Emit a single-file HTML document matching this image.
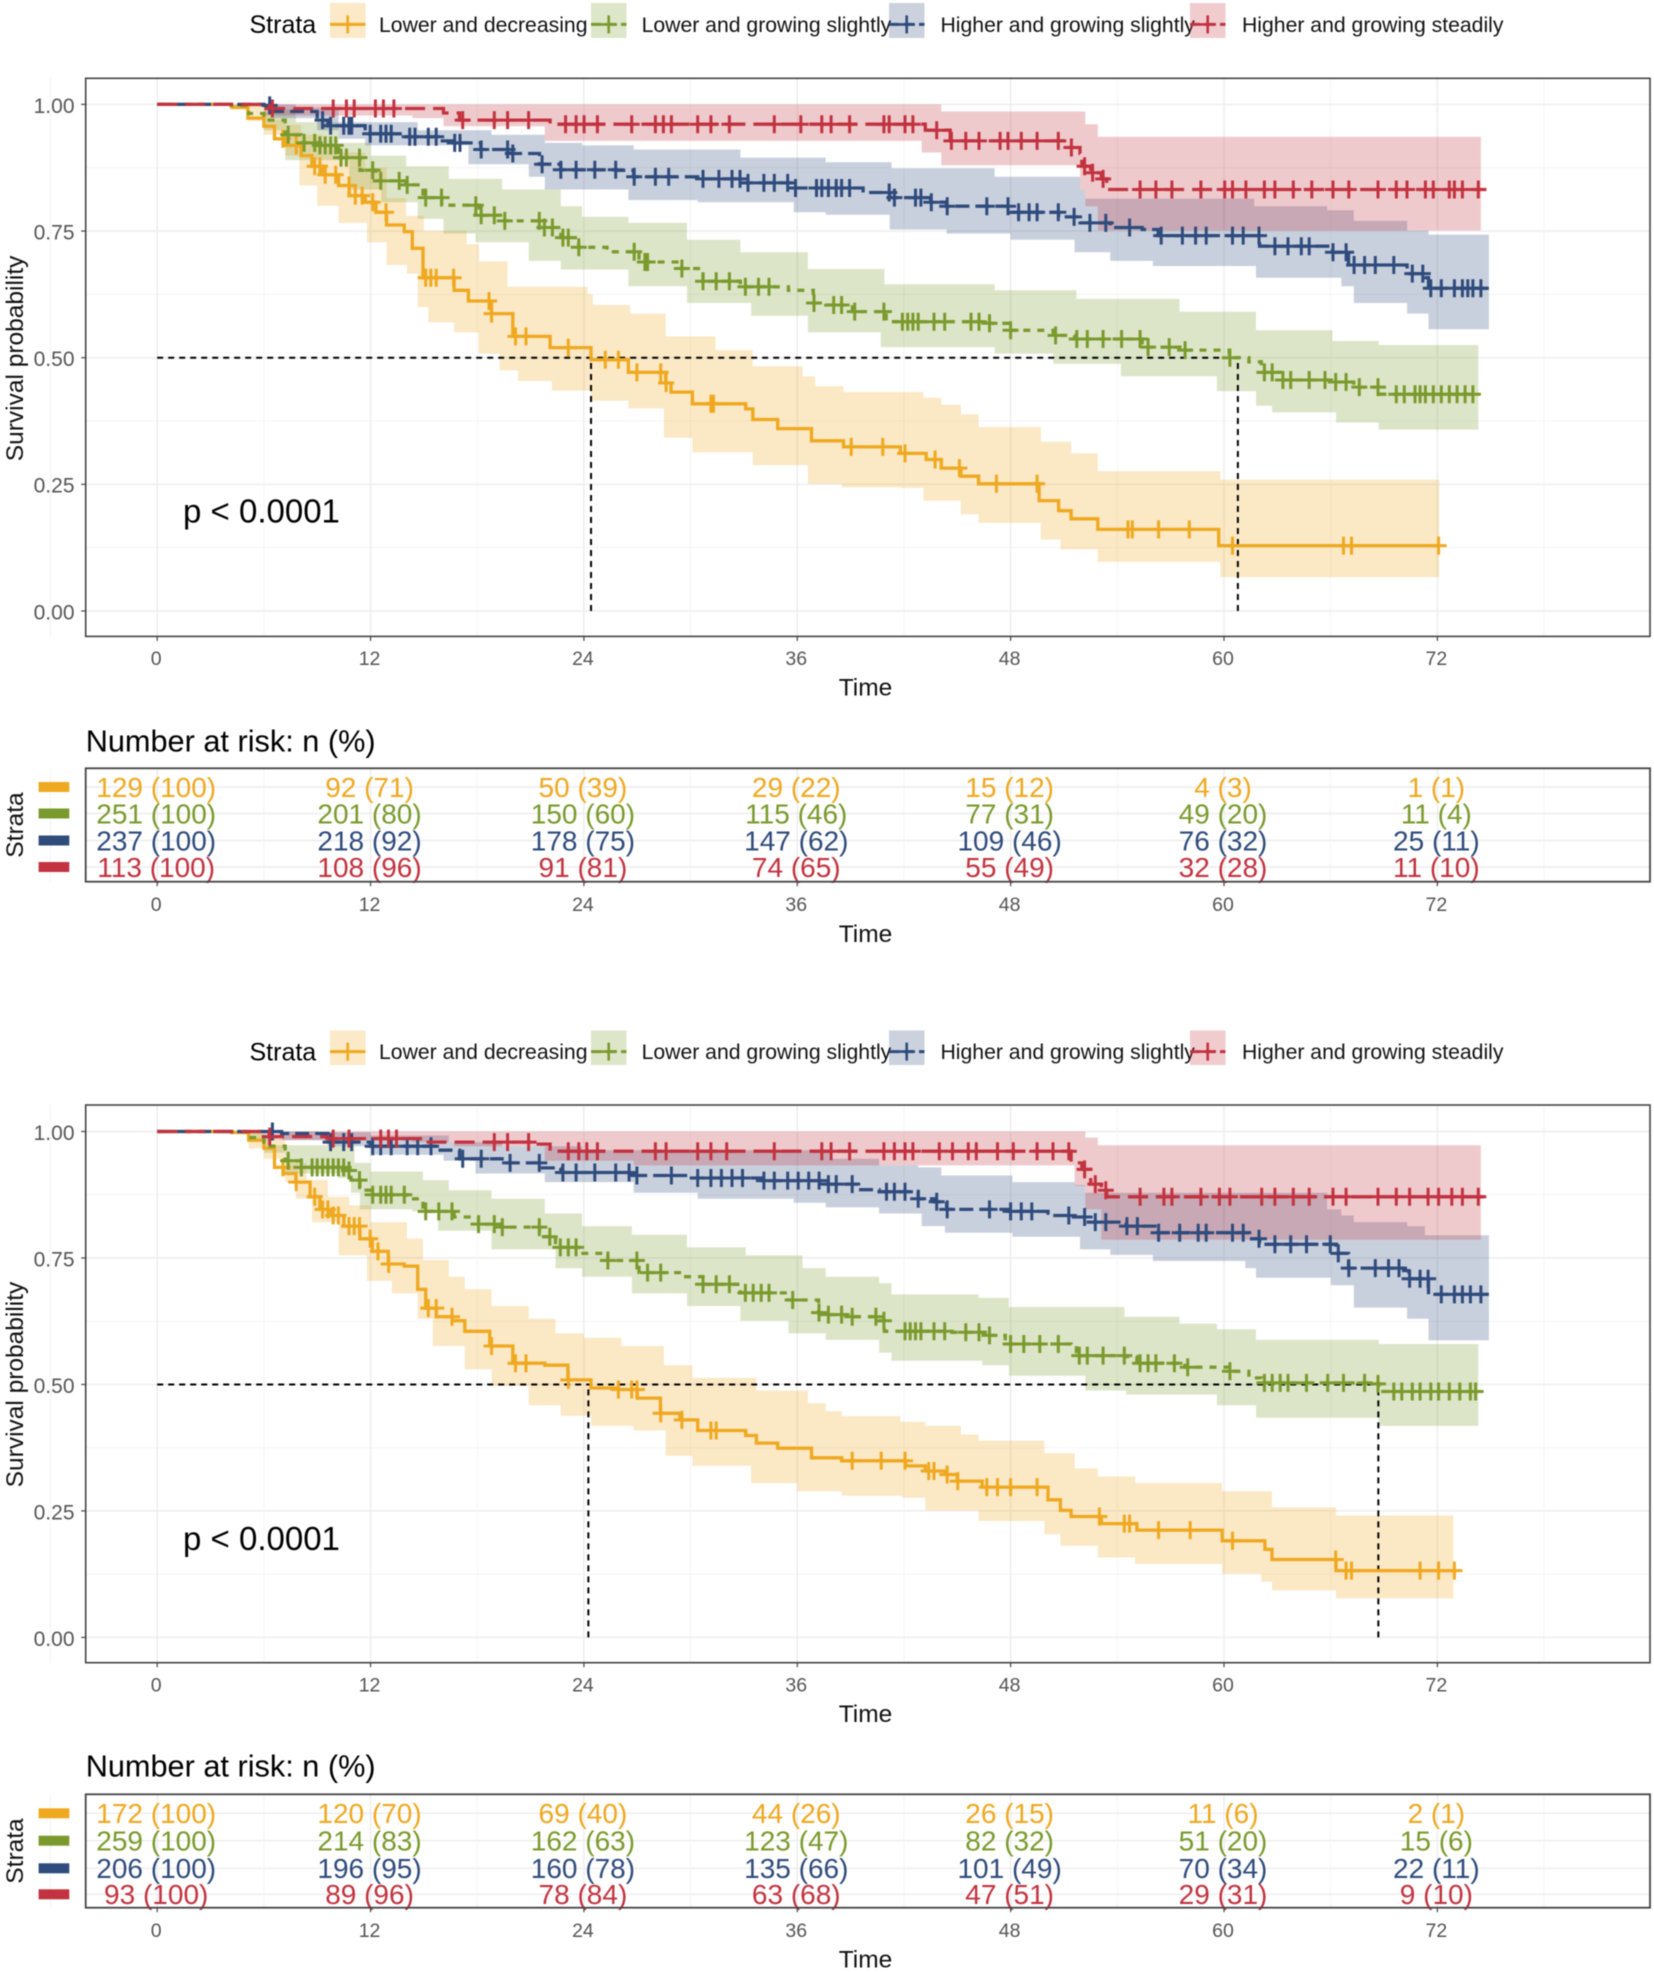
<!DOCTYPE html>
<html lang="en">
<head>
<meta charset="utf-8">
<title>Kaplan-Meier survival curves by strata</title>
<style>
html,body{margin:0;padding:0;background:#fff;}
svg{display:block;font-family:"Liberation Sans",Arial,sans-serif;filter:blur(0.45px);}
</style>
</head>
<body>
<svg id="chart" width="1654" height="1972" viewBox="0 0 1654 1972" xmlns="http://www.w3.org/2000/svg"></svg>
<script>
/* ---------- shared categories and tick labels ---------- */
const strataLabels = ["Lower and decreasing","Lower and growing slightly","Higher and growing slightly","Higher and growing steadily"];
const xTickValues = [0,12,24,36,48,60,72];
const yTickValues = [0,0.25,0.5,0.75,1];
const yTickLabels = ["0.00","0.25","0.50","0.75","1.00"];

/* ---------- figure 1: survival curves ---------- */
const p1YellowTimes = [0,4.2,5.1,6,6.6,7.2,8.1,8.7,9.3,10.2,10.8,11.7,12.3,12.9,13.9,14.35,14.95,16.7,17.5,18.8,20,22.1,24.4,26.5,28.6,28.9,30.1,33.1,33.5,34.9,36.8,38.6,41.8,43.25,44.1,45.2,46.2,49.6,50.7,51.4,52.9,59.7,72.1];
const p1YellowSurv = [1,.994,.973,.957,.932,.919,.899,.878,.861,.84,.82,.807,.787,.762,.749,.716,.658,.633,.612,.587,.542,.52,.496,.471,.45,.432,.409,.399,.378,.36,.336,.324,.311,.299,.282,.266,.251,.218,.198,.182,.161,.129,.129];
const p1YellowUpperTimes = [0,6,6.6,7.2,8.1,9.3,10.2,11.7,12.9,14,15,17.4,18.1,19.7,24.2,24.5,26.6,28.6,31.4,33.5,36.3,37,38.6,43.1,44.1,45.2,46.2,49.7,51.4,52.9,59.8,72.1];
const p1YellowUpper = [1,.985,.97,.96,.94,.92,.905,.875,.815,.78,.75,.724,.69,.64,.625,.604,.587,.542,.515,.483,.463,.444,.432,.421,.407,.388,.363,.334,.311,.276,.259,.259];
const p1YellowLowerTimes = [0,4.2,5.1,6,7.2,8,9,10.2,11.8,12.9,14.05,14.65,15.25,16.7,18.07,19.26,20.3,22.2,24.4,26.5,28.5,30.1,33.5,36.6,38.5,41.8,43.1,45.2,46.2,49.7,50.8,52.9,59.8,72.1];
const p1YellowLower = [1,.99,.967,.94,.899,.84,.8,.766,.728,.683,.666,.6,.57,.55,.508,.475,.454,.435,.415,.4,.342,.313,.288,.251,.244,.243,.218,.191,.174,.141,.122,.097,.067,.067];
const p1YellowCensor = [7.07,7.82,8.86,9.15,9.45,10.04,10.79,11.14,11.53,12.12,12.87,15.1,15.39,15.69,16.67,18.66,18.81,20.15,20.74,23.12,25.2,25.94,26.98,28.32,28.62,31.14,31.29,39.03,40.81,42.06,43.75,45.12,47.2,49.49,54.6,54.84,56.32,58.05,60.48,66.72,67.17,72.07];

const p1GreenTimes = [0,4.16,5.14,6,7.2,8.1,9,10.2,11.4,12.3,14,14.95,16,18.1,19.3,21.5,22.7,23.7,25.3,27.1,29.5,30.7,32.8,35.5,36.9,37.6,39.1,41,46.5,48,50.4,51.6,55.4,57.8,60.3,61.4,62.1,63.2,66.1,67.3,68.7,74.3];
const p1GreenSurv = [1,.998,.982,.969,.94,.924,.919,.895,.87,.849,.841,.816,.801,.781,.77,.757,.737,.718,.709,.689,.676,.651,.64,.633,.608,.604,.591,.571,.568,.554,.544,.537,.521,.515,.5,.492,.471,.456,.452,.442,.428,.428];
const p1GreenUpperTimes = [0,6,7.8,10.2,12,14,16.4,19.4,22.7,23.9,26.5,29.8,32.8,36.6,40.9,47.1,51.7,57.5,61.8,66.1,68.7,74.3];
const p1GreenUpper = [1,.99,.965,.924,.899,.878,.853,.832,.799,.778,.766,.733,.708,.675,.645,.633,.616,.591,.554,.533,.525,.525];
const p1GreenLowerTimes = [0,4.16,6,7.2,10.8,12.6,14.65,16.1,17.9,20.9,22.7,26.5,29.8,33.4,36.6,40.7,47.1,50.4,54.2,59.6,61.8,62.7,66.3,68.7,74.3];
const p1GreenLower = [1,.995,.949,.89,.832,.807,.774,.745,.728,.691,.674,.641,.608,.583,.55,.521,.508,.488,.463,.434,.405,.392,.372,.358,.358];
const p1GreenCensor = [7.37,8.26,8.86,9.15,9.45,9.75,10.04,10.34,10.64,11.38,12.12,12.57,13.61,14.06,15.1,15.99,17.92,18.22,18.96,19.55,21.49,21.78,22.23,22.82,23.12,23.71,26.83,27.43,27.58,29.51,30.7,31.44,32.18,33.08,33.82,34.41,36.94,38.05,38.49,39.23,40.87,41.91,42.21,42.5,42.8,43.69,44.29,45.77,46.22,46.81,48,50.53,51.72,52.31,53.2,54.24,55.28,55.73,56.92,57.81,60.33,62.27,62.71,63.31,63.75,64.79,65.68,66.28,66.87,67.61,68.66,69.69,70.14,70.74,71.03,71.33,71.77,72.22,72.67,73.11,73.56,74];

const p1BlueTimes = [0,6,6.6,9,9.6,11.7,13.8,15.8,16.7,18.2,19.85,21.5,22.7,25.8,26.8,30.4,32.8,35.8,39.7,41.2,43.5,44.4,48,50.7,51.9,53.6,55.4,56.3,62,66.1,67,70.3,71.3,71.5,74.9];
const p1BlueSurv = [1,.998,.986,.969,.958,.942,.936,.928,.924,.911,.903,.882,.871,.87,.857,.853,.845,.835,.826,.816,.807,.799,.787,.778,.766,.757,.753,.741,.72,.708,.683,.666,.658,.637,.637];
const p1BlueUpperTimes = [0,7.8,10.2,14.65,18.8,21.8,23.9,26.8,32.8,37.6,41.3,47.1,51.9,52.2,61.7,65.8,67.3,70.3,71.5,74.9];
const p1BlueUpper = [1,.994,.965,.949,.94,.924,.919,.911,.895,.886,.874,.857,.832,.814,.799,.791,.77,.751,.743,.743];
const p1BlueLowerTimes = [0,6.6,9,10.2,11.7,17.5,20.9,21.8,26.5,30.4,35.8,37.6,41.2,44.4,48,51.6,53.6,56,61.8,66.6,67.3,70.3,71.5,74.9];
const p1BlueLower = [1,.973,.949,.932,.919,.882,.857,.832,.811,.807,.787,.782,.753,.745,.733,.708,.691,.681,.658,.641,.608,.587,.556,.556];
const p1BlueCensor = [6.33,9.3,9.75,10.49,10.79,10.94,11.98,12.57,12.87,13.16,14.2,14.5,15.25,15.69,16.73,17.03,18.22,19.71,20,21.65,22.7,23.56,24.61,25.79,26.83,28.02,28.77,30.7,31.59,32.33,32.78,33.23,34.12,34.71,35.46,35.9,37.08,37.38,37.75,38.19,38.49,38.94,41.17,41.46,42.65,42.95,43.54,44.43,46.66,47.85,48.45,49.04,49.49,50.68,51.57,52.46,53.35,54.69,56.47,57.66,58.4,59,60.48,61.08,61.97,62.86,63.6,64.35,64.79,66.13,66.87,67.32,67.91,68.51,69.55,70.59,71.18,71.63,72.22,72.96,73.41,73.71,74,74.45];

const p1RedTimes = [0,6.3,16.1,17,22.1,43.2,44.6,51.1,51.9,52,52.5,53.1,53.4,74.75];
const p1RedSurv = [1,.992,.983,.969,.961,.949,.928,.915,.903,.878,.865,.853,.832,.832];
const p1RedUpperTimes = [0,44.1,52.2,52.9,74.45];
const p1RedUpper = [1,.986,.961,.936,.936];
const p1RedLowerTimes = [0,6,14.35,16.1,21.8,43,44.1,51.9,52.2,52.9,74.45];
const p1RedLower = [1,.978,.973,.957,.928,.905,.88,.832,.799,.751,.751];
const p1RedCensor = [6.48,9.9,10.64,11.08,12.27,12.72,13.31,17.18,18.96,19.71,20.89,22.97,23.56,24.01,24.76,26.69,28.02,28.47,28.92,30.4,31.14,32.18,34.71,36.2,37.38,37.9,38.94,40.87,41.17,42.06,42.5,43.84,44.67,45.48,46.22,47.41,47.85,48.6,49.49,50.68,51.42,52.16,52.61,53.2,55.28,56.17,57.07,58.7,60.04,60.48,61.23,62.27,62.86,63.9,64.94,66.13,67.02,68.66,69.69,70.29,71.33,71.77,72.67,72.96,73.41,74.3];

const p1MedianTimes = [24.4,60.78];
const p1RiskYellow = ["129 (100)","92 (71)","50 (39)","29 (22)","15 (12)","4 (3)","1 (1)"];
const p1RiskGreen = ["251 (100)","201 (80)","150 (60)","115 (46)","77 (31)","49 (20)","11 (4)"];
const p1RiskBlue = ["237 (100)","218 (92)","178 (75)","147 (62)","109 (46)","76 (32)","25 (11)"];
const p1RiskRed = ["113 (100)","108 (96)","91 (81)","74 (65)","55 (49)","32 (28)","11 (10)"];

/* ---------- figure 2: survival curves ---------- */
const p2YellowTimes = [0,4.2,5.14,6,6.6,7.1,7.8,8.6,9.15,9.75,10.5,11.4,12.1,13,13.9,14.65,15.1,15.7,16.6,17.3,18.7,20,21.8,23.1,24.4,25.9,27,28.3,29.4,30.4,33.1,33.7,34.9,36.8,38.5,42.1,43.2,44.3,45,46.4,50.1,50.8,51.4,53.1,55.1,59.9,62.3,62.7,66.3,73];
const p2YellowSurv = [1,.998,.983,.967,.929,.917,.9,.871,.846,.834,.813,.788,.763,.738,.734,.688,.651,.634,.626,.605,.576,.542,.538,.509,.493,.49,.473,.443,.43,.409,.399,.384,.374,.355,.349,.339,.329,.322,.309,.297,.272,.251,.239,.225,.212,.191,.174,.154,.132,.132];
const p2YellowUpperTimes = [0,6,7.2,8.4,9.6,10.8,12,14.05,14.95,16.4,17.3,18.8,20.9,22.4,24,26.1,28.5,30.1,33.7,36.6,37.6,38.5,41.8,43.2,45.2,46.2,49.9,51.6,52.9,55,59.9,62.7,66.3,72.9];
const p2YellowUpper = [1,.983,.938,.904,.871,.854,.821,.788,.746,.713,.688,.655,.63,.601,.592,.576,.538,.513,.488,.463,.447,.437,.426,.418,.401,.389,.364,.334,.318,.305,.289,.257,.241,.241];
const p2YellowLowerTimes = [0,5.14,6,7.2,7.8,8.7,10.2,11.8,13.2,14.65,15.5,17.3,18.8,20.9,22.7,24.4,26.8,28.6,30.1,33.4,36,38.5,41.9,43.2,46.2,49.9,50.8,52.9,55,59.9,62.1,62.7,66.3,72.9];
const p2YellowLower = [1,.967,.946,.9,.867,.821,.755,.705,.68,.63,.576,.53,.497,.459,.438,.418,.409,.359,.339,.305,.289,.28,.276,.251,.23,.204,.181,.158,.145,.126,.11,.093,.077,.077];
const p2YellowCensor = [7.07,7.82,8.86,9.3,9.6,9.9,10.19,10.79,11.08,11.38,11.98,12.42,13.02,15.25,15.69,16.58,18.81,20.15,20.74,23.12,25.94,26.69,26.98,28.32,29.51,31.14,31.44,39.09,40.72,42.06,43.39,43.69,44.43,45.03,46.66,47.26,48,49.49,52.99,54.39,54.69,56.32,58.1,60.48,66.28,66.87,67.17,71.03,72.07,72.96];

const p2GreenTimes = [0,4.16,5.14,6,7.2,8.1,10.5,10.9,11.4,12.1,14.05,14.95,16.7,18.07,19.4,21.5,22.4,23.7,25.35,27.1,29.5,30.7,32.8,35.5,37.2,37.6,38.8,40.6,40.9,44.7,46.8,47.7,51.4,51.7,54.5,55.1,57.8,60.3,61.4,62.1,68.5,68.7,74.45];
const p2GreenSurv = [1,.999,.988,.971,.942,.929,.923,.904,.884,.875,.867,.842,.831,.817,.811,.792,.771,.759,.745,.721,.713,.698,.681,.667,.642,.638,.634,.626,.605,.603,.597,.58,.578,.557,.555,.542,.534,.526,.513,.503,.501,.486,.486];
const p2GreenUpperTimes = [0,6,6.3,10.2,11.1,12,14.95,16.4,18.8,21.8,23.9,26.7,29.8,33.1,36.3,37.6,40.6,41.3,46.2,47.9,54.4,57.5,59.6,61.8,68.7,74.3];
const p2GreenUpper = [1,.988,.973,.973,.938,.921,.904,.884,.867,.838,.813,.796,.771,.755,.73,.713,.7,.678,.671,.653,.634,.62,.609,.588,.58,.58];
const p2GreenLowerTimes = [0,5.14,6,7.2,10.2,10.9,11.4,14.35,15.8,18.8,22.4,23.9,26.7,29.8,32.8,35.5,37.6,40.6,41.3,46.4,47.9,52.2,54.5,59.6,61.8,68.7,74.3];
const p2GreenLower = [1,.979,.958,.917,.908,.879,.846,.842,.804,.767,.73,.713,.68,.655,.626,.601,.588,.563,.547,.538,.517,.488,.48,.459,.434,.418,.418];
const p2GreenCensor = [7.37,8.11,8.71,9,9.3,9.6,9.9,10.19,10.49,10.79,11.38,12.12,12.57,12.87,13.16,13.9,15.1,15.84,16.58,18.07,18.96,19.41,21.49,22.08,22.67,23.12,23.56,25.35,26.98,27.58,28.32,30.7,31.44,32.18,33.08,33.52,33.97,34.41,35.74,37.22,37.75,38.49,39.09,40.42,40.87,42.06,42.35,42.65,42.95,43.69,44.29,45.48,46.22,46.81,48,48.74,49.64,50.68,51.86,52.31,53.2,54.39,55.28,55.73,56.17,57.21,57.96,60.33,62.27,62.71,63.16,63.6,64.64,65.83,66.72,67.91,68.66,69.55,70,70.59,71.03,71.63,72.07,72.67,73.26,73.86,74.15];

const p2BlueTimes = [0,7,9.6,11.98,15.8,17,19.4,21.5,22.7,26.8,30,34,37.6,39.4,40.6,42.8,43.7,44.4,47.9,50.1,51.3,52.2,54.5,56.3,61.4,62,66.3,67,70.1,70.4,71.5,74.9];
const p2BlueSurv = [1,.996,.979,.971,.963,.946,.938,.928,.919,.913,.908,.903,.896,.885,.881,.867,.861,.846,.842,.834,.831,.821,.813,.8,.788,.777,.759,.73,.725,.709,.678,.678];
const p2BlueUpperTimes = [0,9,12,16.4,19.4,23.9,37.8,40.6,42.8,44.1,48.1,51.6,52.2,65.8,66.6,67.3,70.3,71.3,74.9];
const p2BlueUpper = [1,.998,.992,.979,.971,.963,.946,.933,.929,.913,.9,.894,.879,.846,.834,.821,.813,.795,.795];
const p2BlueLowerTimes = [0,7,9.6,12,16.1,17.9,21.8,26.8,30.4,35.8,37.6,40.6,43,44.3,48.1,51.9,53.6,56,61.2,61.8,66,67.3,70.3,71.5,74.9];
const p2BlueLower = [1,.983,.971,.954,.942,.917,.9,.879,.867,.859,.85,.838,.813,.8,.792,.767,.756,.744,.73,.711,.696,.652,.63,.587,.587];
const p2BlueCensor = [6.48,9.75,10.49,10.94,12.12,12.57,13.16,14.06,14.65,15.4,17.18,18.22,19.85,21.49,22.82,23.56,24.61,25.79,26.54,26.98,28.92,30.4,31.14,31.73,32.33,32.92,34.12,34.71,35.46,36.05,36.64,37.23,37.75,38.19,39.09,41.02,41.46,42.06,42.8,43.84,44.43,46.81,48,48.6,49.19,51.27,52.16,52.76,53.35,54.54,55.13,56.32,57.51,58.55,59,60.48,61.08,61.97,62.86,63.75,64.64,65.98,66.43,67.02,68.51,69.25,69.84,70.44,71.03,71.48,72.22,72.96,73.41,73.86,74.45];

const p2RedTimes = [0,6.3,9.6,14.95,20.9,22.1,51.4,52,52.5,53.1,53.4,74.75];
const p2RedSurv = [1,.99,.986,.979,.975,.961,.938,.925,.896,.884,.871,.871];
const p2RedUpperTimes = [0,52.2,52.9,74.45];
const p2RedUpper = [1,.988,.973,.973];
const p2RedLowerTimes = [0,6,14.35,16.7,21.8,26.8,51.6,52.2,53.1,74.45];
const p2RedLower = [1,.983,.979,.971,.942,.933,.892,.846,.786,.786];
const p2RedCensor = [6.33,9.9,10.79,12.57,13.01,13.46,18.96,19.71,20.89,23.12,23.71,24.16,24.76,28.02,28.62,30.4,31.14,32.03,34.71,37.38,37.9,38.94,40.87,41.46,42.06,42.5,43.99,44.73,45.62,46.07,47.26,48.15,49.49,50.38,51.27,52.16,52.76,53.35,55.28,56.62,57.07,58.7,59.74,60.33,62.12,62.86,63.9,64.79,66.13,66.87,68.66,69.69,70.44,71.48,72.07,72.81,73.41,74.3];

const p2MedianTimes = [24.25,68.68];
const p2RiskYellow = ["172 (100)","120 (70)","69 (40)","44 (26)","26 (15)","11 (6)","2 (1)"];
const p2RiskGreen = ["259 (100)","214 (83)","162 (63)","123 (47)","82 (32)","51 (20)","15 (6)"];
const p2RiskBlue = ["206 (100)","196 (95)","160 (78)","135 (66)","101 (49)","70 (34)","22 (11)"];
const p2RiskRed = ["93 (100)","89 (96)","78 (84)","63 (68)","47 (51)","29 (31)","9 (10)"];

/* ---------- styling and layout ---------- */
const strataColors = ["#EFA81F","#7A9A2D","#2F4B7C","#C2323F"];
const strataDashes = ["none","7 7","14 6","20 8"];
const legendKeyX = [330,591,889,1190];
const legendTextX = [379,641.6,940.5,1242];
const NS = "http://www.w3.org/2000/svg";
const root = document.getElementById("chart");
const xScale = t => 157.2 + t * 17.78;

function make(tag, attrs, parent, text) {
  const el = document.createElementNS(NS, tag);
  for (const k in attrs) el.setAttribute(k, attrs[k]);
  if (text !== undefined) el.textContent = text;
  parent.appendChild(el);
  return el;
}
function stepPoints(times, vals, yScale) {
  const n = Math.min(times.length, vals.length);
  const pts = [[xScale(times[0]), yScale(vals[0])]];
  for (let i = 1; i < n; i++) {
    pts.push([xScale(times[i]), yScale(vals[i - 1])]);
    pts.push([xScale(times[i]), yScale(vals[i])]);
  }
  return pts;
}
function survivalAt(times, vals, t) {
  let s = vals[0];
  for (let i = 0; i < times.length; i++) { if (times[i] <= t) s = vals[i]; else break; }
  return s;
}
function label(parent, x, y, txt, size, fill, anchor, rotate) {
  if (rotate) {
    const bx = x + size * 0.35;
    return make("text", {x: bx, y: y, "font-size": size, fill: fill, "text-anchor": anchor, transform: "rotate(-90 " + bx + " " + y + ")"}, parent, txt);
  }
  return make("text", {x: x, y: y + size * 0.35, "font-size": size, fill: fill, "text-anchor": anchor}, parent, txt);
}

function drawFigure(cfg) {
  const fig = make("g", {}, root);
  
  
  const yScale = s => cfg.y0 + (cfg.y1 - cfg.y0) * s;

  /* legend */
  const legend = make("g", {}, fig);
  
  
  const legendTitle = label(legend, 249.5, cfg.legendY, "Strata", 25, "#000", "start");
  
  
  strataLabels.forEach((name, i) => {
    const entry = make("g", {}, legend);
    
    
    const kx = legendKeyX[i];
    make("rect", {x: kx, y: cfg.keyTop, width: 35.5, height: cfg.keyBottom - cfg.keyTop, fill: strataColors[i], "fill-opacity": 0.25}, entry);
    make("path", {d: "M" + kx + " " + cfg.legendY + "h35.5", stroke: strataColors[i], "stroke-width": 3, fill: "none", "stroke-dasharray": strataDashes[i] === "none" ? "none" : "10 5"}, entry);
    make("path", {d: "M" + (kx + 10) + " " + cfg.legendY + "h16M" + (kx + 17.7) + " " + (cfg.legendY - 9) + "v18", stroke: strataColors[i], "stroke-width": 2.6, fill: "none"}, entry);
    label(entry, legendTextX[i], cfg.legendY, name, 21.2, "#111", "start");
  });

  /* main panel */
  const panel = make("g", {}, fig);
  
  
  const panelLeft = 85.7, panelRight = 1650;
  const grid = make("g", {}, panel);
  
  
  yTickValues.forEach((v, i) => {
    make("line", {x1: panelLeft, x2: panelRight, y1: yScale(v), y2: yScale(v), stroke: "#ececec", "stroke-width": 1.4}, grid);
    if (i < yTickValues.length - 1) {
      const m = (v + yTickValues[i + 1]) / 2;
      make("line", {x1: panelLeft, x2: panelRight, y1: yScale(m), y2: yScale(m), stroke: "#f3f3f3", "stroke-width": 1}, grid);
    }
  });
  const step = xTickValues[1] - xTickValues[0];
  xTickValues.concat([xTickValues[xTickValues.length - 1] + step]).forEach(v => {
    if (v <= xTickValues[xTickValues.length - 1]) make("line", {x1: xScale(v), x2: xScale(v), y1: cfg.panelTop, y2: cfg.panelBottom, stroke: "#ececec", "stroke-width": 1.4}, grid);
    make("line", {x1: xScale(v - step / 2), x2: xScale(v - step / 2), y1: cfg.panelTop, y2: cfg.panelBottom, stroke: "#f3f3f3", "stroke-width": 1}, grid);
  });

  /* confidence bands */
  cfg.series.forEach((s, i) => {
    const up = stepPoints(s.upperTimes, s.upper, yScale);
    const lo = stepPoints(s.lowerTimes, s.lower, yScale).reverse();
    const band = make("polygon", {points: up.concat(lo).map(p => p[0].toFixed(1) + "," + p[1].toFixed(1)).join(" "), fill: strataColors[i], "fill-opacity": 0.26, stroke: "none"}, panel);
    
    
  });

  /* median reference lines */
  const medians = make("g", {}, panel);
  
  
  const maxMedian = Math.max.apply(null, cfg.medians);
  make("line", {x1: xScale(0), x2: xScale(maxMedian), y1: yScale(0.5), y2: yScale(0.5), stroke: "#000", "stroke-width": 2, "stroke-dasharray": "6 5"}, medians);
  cfg.medians.forEach(m => {
    make("line", {x1: xScale(m), x2: xScale(m), y1: yScale(0), y2: yScale(0.5), stroke: "#000", "stroke-width": 2, "stroke-dasharray": "6 5"}, medians);
  });

  /* survival curves and censor marks */
  cfg.series.forEach((s, i) => {
    const pts = stepPoints(s.times, s.surv, yScale);
    const curve = make("path", {d: "M" + pts.map(p => p[0].toFixed(1) + " " + p[1].toFixed(1)).join("L"), fill: "none", stroke: strataColors[i], "stroke-width": 3.3, "stroke-dasharray": strataDashes[i]}, panel);
    
    
    const marks = make("g", {}, panel);
    
    
    s.censor.forEach(t => {
      const x = xScale(t), y = yScale(survivalAt(s.times, s.surv, t));
      const mark = make("path", {d: "M" + (x - 8).toFixed(1) + " " + y.toFixed(1) + "h16M" + x.toFixed(1) + " " + (y - 9).toFixed(1) + "v18", fill: "none", stroke: strataColors[i], "stroke-width": 3}, marks);
      
      
    });
  });

  const border = make("rect", {x: panelLeft, y: cfg.panelTop, width: panelRight - panelLeft, height: cfg.panelBottom - cfg.panelTop, fill: "none", stroke: "#444", "stroke-width": 1.6}, panel);
  
  

  /* axes */
  const yAxis = make("g", {}, fig);
  
  
  yTickValues.forEach((v, i) => {
    make("line", {x1: panelLeft - 4.5, x2: panelLeft, y1: yScale(v), y2: yScale(v), stroke: "#444", "stroke-width": 1.2}, yAxis);
    label(yAxis, 74.5, yScale(v) + 1, yTickLabels[i], 21, "#555", "end");
  });
  const yTitle = label(fig, 14.3, cfg.yTitleY, "Survival probability", 24.5, "#111", "middle", true);
  
  

  const xAxis = make("g", {}, fig);
  
  
  xTickValues.forEach(v => {
    make("line", {x1: xScale(v), x2: xScale(v), y1: cfg.panelBottom, y2: cfg.panelBottom + 4.5, stroke: "#444", "stroke-width": 1.2}, xAxis);
    label(xAxis, xScale(v) - 1, cfg.xLabelY, String(v), 19.5, "#555", "middle");
  });
  const xTitle = label(fig, 865.5, cfg.timeY, "Time", 24.5, "#111", "middle");
  
  

  const pValue = label(fig, 183, cfg.pValueY, "p < 0.0001", 33, "#000", "start");
  
  

  /* number at risk table */
  const table = make("g", {}, fig);
  
  
  const tableTitle = label(table, 85.7, cfg.riskTitleY, "Number at risk: n (%)", 30.7, "#000", "start");
  
  
  cfg.rows.forEach(y => {
    make("line", {x1: panelLeft, x2: panelRight, y1: y, y2: y, stroke: "#ececec", "stroke-width": 1.4}, table);
  });
  xTickValues.concat([xTickValues[xTickValues.length - 1] + step]).forEach(v => {
    if (v <= xTickValues[xTickValues.length - 1]) make("line", {x1: xScale(v), x2: xScale(v), y1: cfg.tableTop, y2: cfg.tableBottom, stroke: "#ececec", "stroke-width": 1.4}, table);
    make("line", {x1: xScale(v - step / 2), x2: xScale(v - step / 2), y1: cfg.tableTop, y2: cfg.tableBottom, stroke: "#f3f3f3", "stroke-width": 1}, table);
  });
  cfg.risk.forEach((row, r) => {
    const swatch = make("rect", {x: 38.6, y: cfg.rows[r] - 5, width: 30.7, height: 10, fill: strataColors[r]}, table);
    
    
    row.forEach((txt, c) => {
      const cell = label(table, xScale(xTickValues[c]) - 1, cfg.rows[r], txt, 28, strataColors[r], "middle");
      
      
    });
  });
  make("rect", {x: panelLeft, y: cfg.tableTop, width: panelRight - panelLeft, height: cfg.tableBottom - cfg.tableTop, fill: "none", stroke: "#444", "stroke-width": 1.8}, table);
  const strataTitle = label(table, 14.3, (cfg.tableTop + cfg.tableBottom) / 2, "Strata", 24.5, "#111", "middle", true);
  
  
  xTickValues.forEach(v => {
    make("line", {x1: xScale(v), x2: xScale(v), y1: cfg.tableBottom, y2: cfg.tableBottom + 4.5, stroke: "#444", "stroke-width": 1.2}, table);
    label(table, xScale(v) - 1, cfg.riskTickY, String(v), 19.5, "#555", "middle");
  });
  const riskTime = label(table, 865.5, cfg.riskTimeY, "Time", 24.5, "#111", "middle");
  
  
}

drawFigure({
  name: "survival-figure-top",
  legendY: 24.4, keyTop: 3, keyBottom: 38,
  panelTop: 78.3, panelBottom: 636.4, y1: 104.4, y0: 611,
  xLabelY: 658, timeY: 687, pValueY: 511, yTitleY: 358.4,
  riskTitleY: 740.7, tableTop: 768.3, tableBottom: 881.7,
  rows: [787, 813.5, 840.5, 867], riskTickY: 904, riskTimeY: 933.5,
  medians: p1MedianTimes,
  risk: [p1RiskYellow, p1RiskGreen, p1RiskBlue, p1RiskRed],
  series: [
    {times: p1YellowTimes, surv: p1YellowSurv, upperTimes: p1YellowUpperTimes, upper: p1YellowUpper, lowerTimes: p1YellowLowerTimes, lower: p1YellowLower, censor: p1YellowCensor},
    {times: p1GreenTimes, surv: p1GreenSurv, upperTimes: p1GreenUpperTimes, upper: p1GreenUpper, lowerTimes: p1GreenLowerTimes, lower: p1GreenLower, censor: p1GreenCensor},
    {times: p1BlueTimes, surv: p1BlueSurv, upperTimes: p1BlueUpperTimes, upper: p1BlueUpper, lowerTimes: p1BlueLowerTimes, lower: p1BlueLower, censor: p1BlueCensor},
    {times: p1RedTimes, surv: p1RedSurv, upperTimes: p1RedUpperTimes, upper: p1RedUpper, lowerTimes: p1RedLowerTimes, lower: p1RedLower, censor: p1RedCensor}
  ]
});
drawFigure({
  name: "survival-figure-bottom",
  legendY: 1051.6, keyTop: 1030.5, keyBottom: 1065,
  panelTop: 1105, panelBottom: 1662.7, y1: 1131.5, y0: 1637.4,
  xLabelY: 1684.5, timeY: 1713.4, pValueY: 1538.5, yTitleY: 1384.5,
  riskTitleY: 1766, tableTop: 1794.3, tableBottom: 1907.7,
  rows: [1813.3, 1840.7, 1868.3, 1894.3], riskTickY: 1930, riskTimeY: 1959,
  medians: p2MedianTimes,
  risk: [p2RiskYellow, p2RiskGreen, p2RiskBlue, p2RiskRed],
  series: [
    {times: p2YellowTimes, surv: p2YellowSurv, upperTimes: p2YellowUpperTimes, upper: p2YellowUpper, lowerTimes: p2YellowLowerTimes, lower: p2YellowLower, censor: p2YellowCensor},
    {times: p2GreenTimes, surv: p2GreenSurv, upperTimes: p2GreenUpperTimes, upper: p2GreenUpper, lowerTimes: p2GreenLowerTimes, lower: p2GreenLower, censor: p2GreenCensor},
    {times: p2BlueTimes, surv: p2BlueSurv, upperTimes: p2BlueUpperTimes, upper: p2BlueUpper, lowerTimes: p2BlueLowerTimes, lower: p2BlueLower, censor: p2BlueCensor},
    {times: p2RedTimes, surv: p2RedSurv, upperTimes: p2RedUpperTimes, upper: p2RedUpper, lowerTimes: p2RedLowerTimes, lower: p2RedLower, censor: p2RedCensor}
  ]
});
</script>
</body>
</html>
